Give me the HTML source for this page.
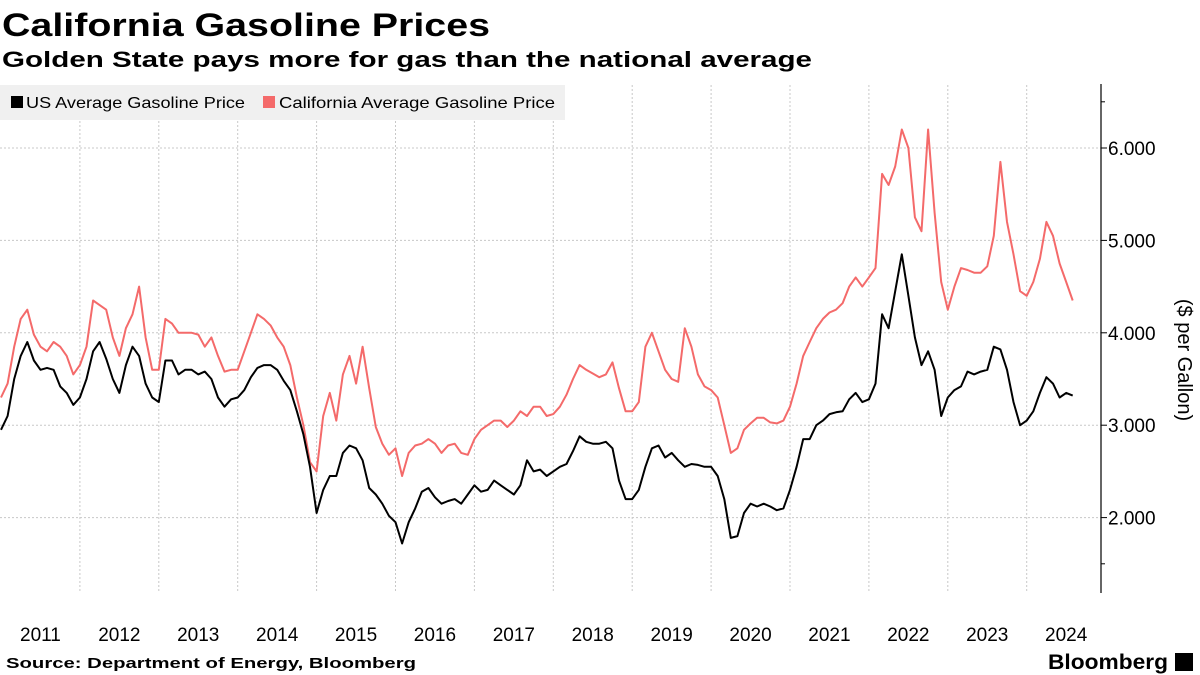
<!DOCTYPE html>
<html><head><meta charset="utf-8">
<style>
html,body{margin:0;padding:0;background:#fff;}
svg{display:block;font-family:"Liberation Sans","DejaVu Sans",sans-serif;}
</style></head>
<body>
<svg id="chart" width="1200" height="675" viewBox="0 0 1200 675" xmlns="http://www.w3.org/2000/svg">
  <text x="2" y="36" font-size="32" font-weight="bold" textLength="488" lengthAdjust="spacingAndGlyphs">California Gasoline Prices</text>
  <text x="2" y="67" font-size="22" font-weight="bold" textLength="810" lengthAdjust="spacingAndGlyphs">Golden State pays more for gas than the national average</text>
  <g id="grid"></g>
  <rect x="0" y="85" width="565" height="35" fill="#f0f0f0"/>
  <g>
    <rect x="11" y="96" width="12" height="12" fill="#000"/>
    <text x="26" y="108" font-size="16" textLength="219" lengthAdjust="spacingAndGlyphs">US Average Gasoline Price</text>
  </g>
  <g>
    <rect x="263" y="96" width="12" height="12" fill="#f46a6a"/>
    <text x="279" y="108" font-size="16" textLength="276" lengthAdjust="spacingAndGlyphs">California Average Gasoline Price</text>
  </g>
  <g id="series"></g>
  <g id="yaxis"></g>
  <g id="xaxis"></g>
  <text transform="translate(1178,360) rotate(90)" text-anchor="middle" font-size="20">($ per Gallon)</text>
  <text x="6" y="668" font-size="15" font-weight="bold" textLength="410" lengthAdjust="spacingAndGlyphs">Source: Department of Energy, Bloomberg</text>
  <text x="1048" y="669" font-size="21" font-weight="bold" textLength="120" lengthAdjust="spacingAndGlyphs">Bloomberg</text>
  <rect x="1175" y="653" width="18" height="18" fill="#000"/>
</svg>
<script>
const years = [2011,2012,2013,2014,2015,2016,2017,2018,2019,2020,2021,2022,2023,2024];
const yTicks = [2,3,4,5,6];
const yTickLabels = ["2.000","3.000","4.000","5.000","6.000"];
const usPrices = [
2.95,3.1,3.5,3.75,3.9,3.7,3.6,3.62,3.6,3.42,3.35,3.22,
3.3,3.5,3.8,3.9,3.72,3.5,3.35,3.65,3.85,3.75,3.45,3.3,
3.25,3.7,3.7,3.55,3.6,3.6,3.55,3.58,3.5,3.3,3.2,3.28,
3.3,3.38,3.52,3.62,3.65,3.65,3.6,3.48,3.38,3.15,2.9,2.55,
2.05,2.3,2.45,2.45,2.7,2.78,2.75,2.62,2.32,2.25,2.15,2.02,
1.95,1.72,1.95,2.1,2.28,2.32,2.22,2.15,2.18,2.2,2.15,2.25,
2.35,2.28,2.3,2.4,2.35,2.3,2.25,2.35,2.62,2.5,2.52,2.45,
2.5,2.55,2.58,2.72,2.88,2.82,2.8,2.8,2.82,2.75,2.4,2.2,
2.2,2.3,2.55,2.75,2.78,2.65,2.7,2.62,2.55,2.58,2.57,2.55,
2.55,2.45,2.2,1.78,1.8,2.05,2.15,2.12,2.15,2.12,2.08,2.1,
2.3,2.55,2.85,2.85,3.0,3.05,3.12,3.14,3.15,3.28,3.35,3.25,
3.28,3.45,4.2,4.05,4.45,4.85,4.4,3.95,3.65,3.8,3.6,3.1,
3.3,3.38,3.42,3.58,3.55,3.58,3.6,3.85,3.82,3.6,3.25,3.0,
3.05,3.15,3.35,3.52,3.45,3.3,3.35,3.32];
const caPrices = [
3.3,3.45,3.85,4.15,4.25,3.98,3.85,3.8,3.9,3.85,3.75,3.55,
3.65,3.85,4.35,4.3,4.25,3.95,3.75,4.05,4.2,4.5,3.95,3.6,
3.6,4.15,4.1,4.0,4.0,4.0,3.98,3.85,3.95,3.75,3.58,3.6,
3.6,3.8,4.0,4.2,4.15,4.08,3.95,3.85,3.65,3.3,3.0,2.6,
2.5,3.1,3.35,3.05,3.55,3.75,3.45,3.85,3.4,2.98,2.8,2.68,
2.75,2.45,2.7,2.78,2.8,2.85,2.8,2.7,2.78,2.8,2.7,2.68,
2.85,2.95,3.0,3.05,3.05,2.98,3.05,3.15,3.1,3.2,3.2,3.1,
3.12,3.2,3.33,3.5,3.65,3.6,3.56,3.52,3.55,3.68,3.4,3.15,
3.15,3.25,3.85,4.0,3.8,3.6,3.5,3.47,4.05,3.85,3.55,3.42,
3.38,3.3,3.0,2.7,2.75,2.95,3.02,3.08,3.08,3.03,3.02,3.05,
3.2,3.45,3.75,3.9,4.05,4.15,4.22,4.25,4.32,4.5,4.6,4.5,
4.6,4.7,5.72,5.6,5.8,6.2,6.0,5.25,5.1,6.2,5.3,4.55,
4.25,4.5,4.7,4.68,4.65,4.65,4.72,5.05,5.85,5.2,4.85,4.45,
4.4,4.55,4.8,5.2,5.05,4.75,4.55,4.35];

const NS = "http://www.w3.org/2000/svg";
const X0 = 1, YEARW = 78.9, Y2 = 517.6, PERD = 92.4, AXISX = 1101;
function xScale(t){ return X0 + (t - 2011) * YEARW; }
function yScale(v){ return Y2 - (v - 2) * PERD; }
function mk(tag, attrs, parent){
  const e = document.createElementNS(NS, tag);
  for (const k in attrs) e.setAttribute(k, attrs[k]);
  parent.appendChild(e);
  return e;
}
const grid = document.getElementById('grid');
const yaxis = document.getElementById('yaxis');
const xaxis = document.getElementById('xaxis');
const series = document.getElementById('series');

yTicks.forEach((v, i) => {
  const y = yScale(v);
  const g = mk('line', {x1:0, x2:AXISX, y1:y, y2:y, stroke:'#c8c8c8', 'stroke-dasharray':'2,2', 'stroke-width':1}, grid);
  
  
  const t = mk('line', {x1:AXISX, x2:AXISX+6, y1:y, y2:y, stroke:'#000', 'stroke-width':1}, yaxis);
  
  
  const l = mk('text', {x:AXISX+7, y:y+7, 'font-size':19}, yaxis);
  l.textContent = yTickLabels[i];
  
  
});
[1.5, 6.5].forEach(v => {
  const t = mk('line', {x1:AXISX, x2:AXISX+4, y1:yScale(v), y2:yScale(v), stroke:'#000'}, yaxis);
  
  
});
const ax = mk('line', {x1:AXISX, x2:AXISX, y1:84, y2:593, stroke:'#000', 'stroke-width':1.2}, yaxis);



years.forEach(yr => {
  if (yr > 2011) {
    const gx = xScale(yr);
    const g = mk('line', {x1:gx, x2:gx, y1:85, y2:593, stroke:'#c8c8c8', 'stroke-dasharray':'2,2', 'stroke-width':1}, grid);
    
    
  }
  const l = mk('text', {x:xScale(yr + 0.5), y:641, 'font-size':19, 'text-anchor':'middle'}, xaxis);
  l.textContent = String(yr);
  
  
});

function linePath(vals){
  return vals.map((v, i) => (i ? 'L' : 'M') + xScale(2011 + i / 12).toFixed(1) + ',' + yScale(v).toFixed(1)).join(' ');
}
const ca = mk('path', {d:linePath(caPrices), fill:'none', stroke:'#f46a6a', 'stroke-width':2, 'stroke-linejoin':'round'}, series);


const us = mk('path', {d:linePath(usPrices), fill:'none', stroke:'#000', 'stroke-width':2, 'stroke-linejoin':'round'}, series);


</script>
</body></html>
